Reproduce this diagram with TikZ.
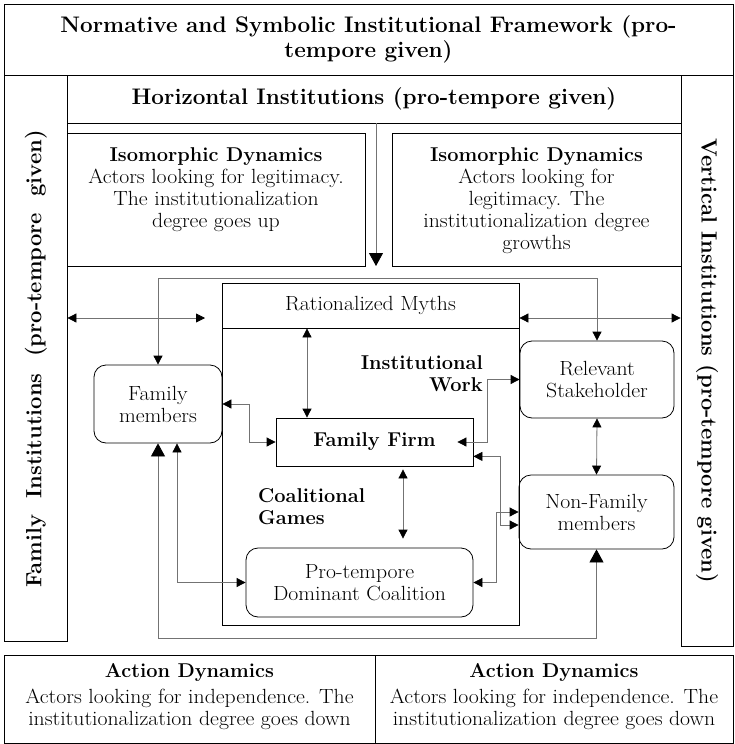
\documentclass[tikz,border=0pt]{standalone}
\usetikzlibrary{arrows.meta,calc}
\tikzset{
  sm/.tip={Triangle[length=9pt,width=9pt,color=black]},
  bg/.tip={Triangle[length=13pt,width=14pt,color=black]},
}
\begin{document}
\begin{tikzpicture}[x=1pt,y=-1pt,
  box/.style={draw=black,line width=0.8pt,rectangle,inner sep=0pt,anchor=center},
  rbox/.style={box,rounded corners=12pt},
  txt/.style={font=\fontsize{20.5}{22}\selectfont,align=center,inner sep=0pt,xscale=1.06},
  btxt/.style={font=\fontsize{20}{22}\selectfont\bfseries,align=center,inner sep=0pt},
  htxt/.style={font=\fontsize{22.5}{25}\selectfont\bfseries,align=center,inner sep=0pt},
  rtxt/.style={font=\fontsize{22}{25}\selectfont\bfseries,inner sep=0pt},
  conn/.style={draw=black!55,line width=0.8pt},
]
\fill[white] (0,0) rectangle (734,744);
\useasboundingbox (0,0) rectangle (734,744);

% frames
\node[box,minimum width=729pt,minimum height=71pt] (title) at (368.5,39.5) {};
\node[htxt] (titletxt) at (title.center) {Normative and Symbolic Institutional Framework (pro-\\tempore given)};
\node[box,minimum width=63pt,minimum height=566pt] (famcol) at (35.5,358) {};
\node[rtxt,rotate=90] (famtxt) at (36,359) {Family\ \ Institutions\ \ (pro-tempore\ \ given)};
\node[box,minimum width=52pt,minimum height=571pt] (vertcol) at (707,360.5) {};
\node[rtxt,rotate=-90] (verttxt) at (707,361) {Vertical Institutions (pro-tempore given)};
\node[box,minimum width=614pt,minimum height=48pt] (horiz) at (374,99) {};
\node[htxt] (horiztxt) at (horiz.center) {Horizontal Institutions (pro-tempore given)};

% isomorphic
\node[box,minimum width=298pt,minimum height=133pt] (isoL) at (216,199.5) {};
\node[btxt] (isoLhd) at (216,157) {Isomorphic Dynamics};
\node[txt] (isoLtxt) at (216,200) {Actors looking for legitimacy.\\The institutionalization\\degree goes up};
\node[box,minimum width=289pt,minimum height=133pt] (isoR) at (536.5,199.5) {};
\node[btxt] (isoRhd) at (536.5,157) {Isomorphic Dynamics};
\node[txt] (isoRtxt) at (536.5,211) {Actors looking for\\legitimacy. The\\institutionalization degree\\growths};

% core
\node[box,minimum width=297pt,minimum height=342pt] (core) at (370.5,454) {};
\node[box,minimum width=297pt,minimum height=45pt] (rm) at (370.5,305.5) {};
\node[txt] (rmtxt) at (rm.center) {Rationalized Myths};
\node[rbox,minimum width=128pt,minimum height=78pt] (fm) at (158,404) {};
\node[txt] (fmtxt) at (fm.center) {Family\\members};
\node[box,minimum width=197pt,minimum height=48pt] (ff) at (374.5,442) {};
\node[btxt] (fftxt) at (ff.center) {Family Firm};
\node[rbox,minimum width=154pt,minimum height=77pt] (rs) at (597,379.5) {};
\node[txt] (rstxt) at (rs.center) {Relevant\\Stakeholder};
\node[rbox,minimum width=155pt,minimum height=74pt] (nf) at (596.5,512) {};
\node[txt] (nftxt) at (nf.center) {Non-Family\\members};
\node[rbox,minimum width=227pt,minimum height=69pt] (pd) at (359.5,582.5) {};
\node[txt] (pdtxt) at (pd.center) {Pro-tempore\\Dominant Coalition};
\node[btxt,align=right,anchor=east] (iw) at (483,373.5) {Institutional\\Work};
\node[btxt,align=left,anchor=west] (cg) at (258,507) {Coalitional\\Games};

% bottom
\node[box,minimum width=371pt,minimum height=88pt] (adL) at (189.5,699) {};
\node[btxt] (adLhd) at (189.5,672) {Action Dynamics};
\node[txt] (adLtxt) at (189.5,709) {Actors looking for independence. The\\institutionalization degree goes down};
\node[box,minimum width=358pt,minimum height=88pt] (adR) at (554,699) {};
\node[btxt] (adRhd) at (554,672) {Action Dynamics};
\node[txt] (adRtxt) at (554,709) {Actors looking for independence. The\\institutionalization degree goes down};

% connectors
\coordinate (downend) at (376,266);
\draw[conn,-bg] (horiz.south -| downend) -- (downend);
\coordinate (tl) at (158,278);
\draw[conn,sm-sm] (fm.north) -- (fm.north |- tl) -| (rs.north);
\coordinate (lhe) at (205,318);
\draw[conn,sm-sm] (famcol.east |- lhe) -- (lhe);
\coordinate (rhy) at (0,318);
\draw[conn,sm-sm] (rm.east |- rhy) -- (vertcol.west |- rhy);
\coordinate (xa) at (307,0);
\draw[conn,sm-sm] (rm.south -| xa) -- (ff.north -| xa);
\draw[conn,sm-sm] (fm.east) -- ++(27,0) |- (ff.west);
\draw[conn,sm-sm] ($(ff.east)+(-16,0)$) -- ++(30,0) |- (rs.west);
\draw[conn,sm-sm] ($(ff.south east)+(0,-10)$) -- ++(27,0) |- ($(nf.west)+(0,13)$);
\draw[conn,sm-sm] (pd.east) -- ++(23,0) |- (nf.west);
\coordinate (xb) at (403,0);
\draw[conn,sm-sm,shorten <=3pt,shorten >=9pt] (ff.south -| xb) -- (pd.north -| xb);
\coordinate (xc) at (177,0);
\draw[conn,sm-sm] (fm.south -| xc) |- (pd.west);
\coordinate (bl) at (158,638);
\draw[conn,bg-bg] (fm.south) -- (fm.south |- bl) -| (nf.south);
\draw[conn,sm-sm] (rs.south) -- (nf.north);
\end{tikzpicture}
\end{document}
